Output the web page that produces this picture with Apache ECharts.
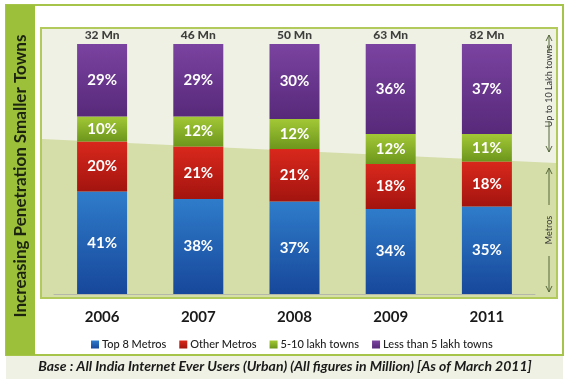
<!DOCTYPE html>
<html>
<head>
<meta charset="utf-8">
<script src="https://cdn.jsdelivr.net/npm/echarts@6/dist/echarts.min.js"></script>
<style>html,body{margin:0;padding:0;background:#fff;}#c{width:569px;height:379px;}</style>
</head>
<body>
<div id="c"></div>
<script>
var years = ['2006', '2007', '2008', '2009', '2011'];
var totals = ['32 Mn', '46 Mn', '50 Mn', '63 Mn', '82 Mn'];
var top8Metros = [41, 38, 37, 34, 35];
var otherMetros = [20, 21, 21, 18, 18];
var towns5to10 = [10, 12, 12, 12, 11];
var townsBelow5 = [29, 29, 30, 36, 37];
var seriesNames = ['Top 8 Metros', 'Other Metros', '5-10 lakh towns', 'Less than 5 lakh towns'];

var FONT = 'Lato';
function grad(a, b) {
  return new echarts.graphic.LinearGradient(0, 0, 0, 1, [{offset: 0, color: a}, {offset: 1, color: b}]);
}
var legendColors = ['#2a68b8', '#c4221a', '#8cb428', '#6e3a92'];
var segColors = [grad('#2f7ccb', '#17479a'), grad('#d9281c', '#a3140f'), grad('#a3c836', '#6c961c'), grad('#7a43a0', '#57297a')];
var dataSets = [top8Metros, otherMetros, towns5to10, townsBelow5];

var series = dataSets.map(function (d, i) {
  return {
    name: seriesNames[i], type: 'bar', stack: 'all', barWidth: 50, data: d,
    itemStyle: {color: segColors[i]},
    label: {show: true, position: 'inside', color: '#fff', fontFamily: FONT, fontWeight: 'bold', fontSize: 15, formatter: '{c}%'}
  };
});
series.push({
  name: 'total', type: 'scatter', symbolSize: 2, itemStyle: {color: 'rgba(0,0,0,0)'}, silent: true, z: 5,
  data: years.map(function () { return 100; }),
  label: {show: true, position: 'top', distance: 2, color: '#111', fontFamily: FONT, fontWeight: 900, fontSize: 12,
    formatter: function (p) { return totals[p.dataIndex]; }}
});

function arrowUp(x, y) { return {type: 'polyline', shape: {points: [[x - 3, y + 6], [x, y], [x + 3, y + 6]]}, style: {stroke: '#55683a', lineWidth: 1, fill: null}}; }
function arrowDown(x, y) { return {type: 'polyline', shape: {points: [[x - 3, y - 6], [x, y], [x + 3, y - 6]]}, style: {stroke: '#55683a', lineWidth: 1, fill: null}}; }
function vline(x, y1, y2) { return {type: 'line', shape: {x1: x, y1: y1, x2: x, y2: y2}, style: {stroke: '#55683a', lineWidth: 1}}; }

var ax = 549;
var graphics = [
  {type: 'rect', shape: {x: 6, y: 355, width: 557, height: 24}, style: {fill: '#eef1e3'}},
  {type: 'rect', shape: {x: 6, y: 5, width: 557, height: 350}, style: {fill: '#fff', stroke: '#a6c34a', lineWidth: 2}},
  {type: 'rect', shape: {x: 6, y: 5, width: 29, height: 350}, style: {fill: '#9cc03a'}},
  {type: 'rect', shape: {x: 41, y: 28, width: 516, height: 270}, style: {fill: '#eff1e5', stroke: '#b2c95c', lineWidth: 2}},
  {type: 'polygon', shape: {points: [[42, 139], [556, 163], [556, 297], [42, 297]]}, style: {fill: '#d5dea9'}},
  {type: 'text', x: 21, y: 176, rotation: Math.PI / 2,
    style: {text: 'Increasing Penetration Smaller Towns', fill: '#1c2410', font: 'bold 17px Lato', textAlign: 'center', textVerticalAlign: 'middle'}},
  {type: 'text', x: ax, y: 86, rotation: Math.PI / 2,
    style: {text: 'Up to 10 Lakh towns', fill: '#333', font: '9px Lato', textAlign: 'center', textVerticalAlign: 'middle'}},
  {type: 'text', x: ax, y: 230, rotation: Math.PI / 2,
    style: {text: 'Metros', fill: '#333', font: '9px Lato', textAlign: 'center', textVerticalAlign: 'middle'}},
  arrowUp(ax, 35), vline(ax, 35, 52),
  vline(ax, 121, 152), arrowDown(ax, 152),
  arrowUp(ax, 168), vline(ax, 168, 205),
  vline(ax, 256, 292), arrowDown(ax, 292),
  {type: 'text', x: 285, y: 366,
    style: {text: 'Base : All India Internet Ever Users (Urban) (All figures in Million) [As of March 2011]', fill: '#1a1a1a', font: 'italic bold 14px Lato', textAlign: 'center', textVerticalAlign: 'middle'}}
];

var chart = echarts.init(document.getElementById('c'), null, {renderer: 'canvas'});
chart.setOption({
  animation: false,
  graphic: {elements: graphics},
  grid: {left: 54, top: 44, width: 481, height: 250},
  legend: {
    data: seriesNames, left: 86, top: 334, itemWidth: 8, itemHeight: 8, itemGap: 13, icon: 'rect',
    textStyle: {fontFamily: FONT, fontSize: 11, fontWeight: 500, color: '#222', padding: [0, 0, 0, -2]}
  },
  color: legendColors,
  xAxis: {
    type: 'category', data: years,
    axisLine: {show: true, lineStyle: {color: '#b5b8a8', width: 1}},
    axisTick: {show: false},
    axisLabel: {margin: 16, fontFamily: FONT, fontWeight: 'bold', fontSize: 15, color: '#1a1a1a'}
  },
  yAxis: {type: 'value', min: 0, max: 100, show: false, splitLine: {show: false}},
  series: series
});
</script>
</body>
</html>
